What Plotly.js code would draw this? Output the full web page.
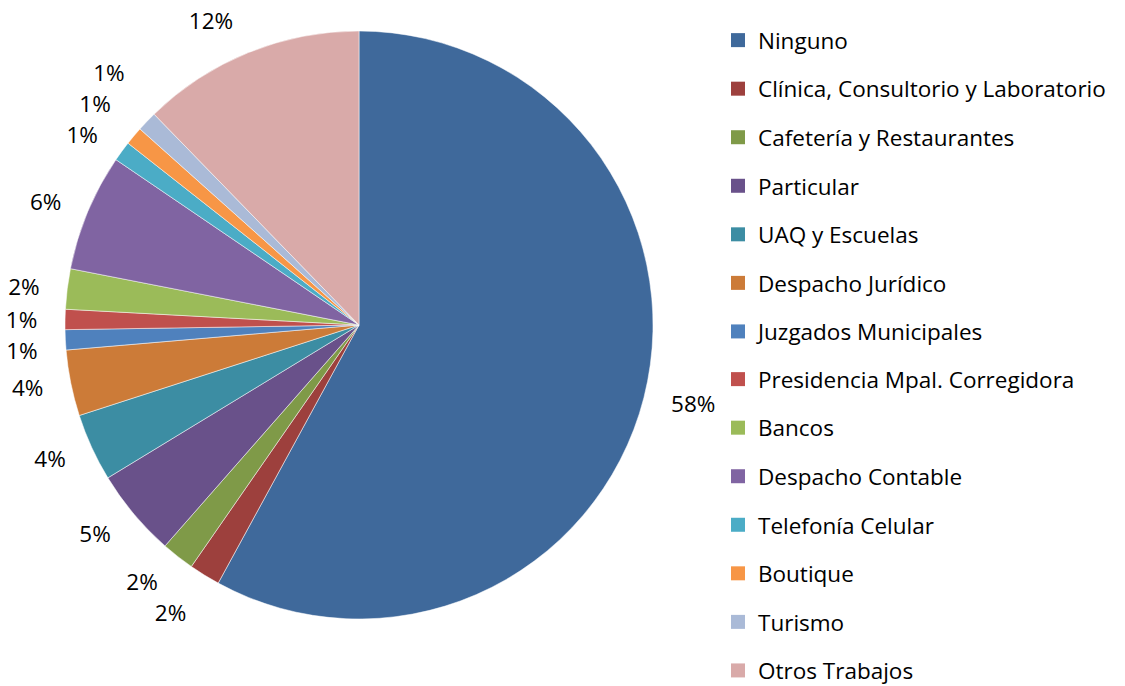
<!DOCTYPE html>
<html>
<head>
<meta charset="utf-8">
<script src="https://cdn.plot.ly/plotly-3.0.1.min.js"></script>
<style>html,body{margin:0;padding:0;background:#fff;}#chart{width:1125px;height:686px;}
path.textline{stroke-opacity:0 !important;}</style>
</head>
<body>
<div id="chart"></div>
<script>
const categories = ["Ninguno","Clínica, Consultorio y Laboratorio","Cafetería y Restaurantes","Particular","UAQ y Escuelas","Despacho Jurídico","Juzgados Municipales","Presidencia Mpal. Corregidora","Bancos","Despacho Contable","Telefonía Celular","Boutique","Turismo","Otros Trabajos"];
const values = [57.6, 1.7, 1.8, 4.8, 3.7, 3.6, 1.1, 1.1, 2.2, 6.4, 1.1, 1.0, 1.1, 12.2];
const colors = ["#3F699B","#9D403D","#7F9A48","#69518A","#3C8DA3","#CC7B38","#4F81BD","#C0504D","#9BBB59","#8064A2","#4BACC6","#F79646","#AABAD7","#D9AAA9"];

const FONT = "'Open Sans', sans-serif";
const FS = 22.5;
const LFS = 22.5;

// invisible, slightly larger copy of the pie that only carries the outside percentage labels
const labelPie = {
  type: 'pie',
  labels: categories,
  values: values,
  sort: false,
  direction: 'clockwise',
  rotation: 0,
  marker: {colors: categories.map(() => 'rgba(0,0,0,0)'), line: {width: 0}},
  textposition: 'outside',
  texttemplate: '%{percent:.0%}',
  outsidetextfont: {family: FONT, size: FS, color: '#000000'},
  showlegend: false,
  hoverinfo: 'skip',
  domain: {x: [45/1125, 673/1125], y: [47/686, 675/686]}
};

const pie = {
  type: 'pie',
  labels: categories,
  values: values,
  sort: false,
  direction: 'clockwise',
  rotation: 0,
  marker: {colors: colors, line: {color: '#ffffff', width: 0.5}},
  textinfo: 'none',
  showlegend: false,
  hoverinfo: 'label+percent',
  domain: {x: [65/1125, 653/1125], y: [67/686, 655/686]}
};

// legend entries (split over two stacked legends so the column fits the page)
const legendTraces = categories.map((c, i) => ({
  type: 'scatter',
  x: [null], y: [null],
  mode: 'markers',
  name: c,
  legendgroup: 'g' + i,
  legend: i < 7 ? 'legend' : 'legend2',
  marker: {symbol: 'square', size: 14, color: colors[i]},
  hoverinfo: 'skip'
}));

const legendStyle = {
  x: 718/1125, xanchor: 'left',
  yanchor: 'top',
  traceorder: 'grouped',
  tracegroupgap: 16.3,
  font: {family: FONT, size: LFS, color: '#000000'},
  bgcolor: 'rgba(0,0,0,0)'
};

const layout = {
  width: 1125, height: 686,
  margin: {l: 0, r: 0, t: 0, b: 0, autoexpand: false},
  paper_bgcolor: '#ffffff', plot_bgcolor: '#ffffff',
  font: {family: FONT, size: LFS, color: '#000000'},
  xaxis: {visible: false, domain: [0.99, 1]},
  yaxis: {visible: false, domain: [0.99, 1]},
  showlegend: true,
  legend: Object.assign({}, legendStyle, {y: 1 - 19/686}),
  legend2: Object.assign({}, legendStyle, {y: 1 - 358/686})
};

Plotly.newPlot('chart', [labelPie, pie].concat(legendTraces), layout, {displayModeBar: false, staticPlot: true});
</script>
</body>
</html>
